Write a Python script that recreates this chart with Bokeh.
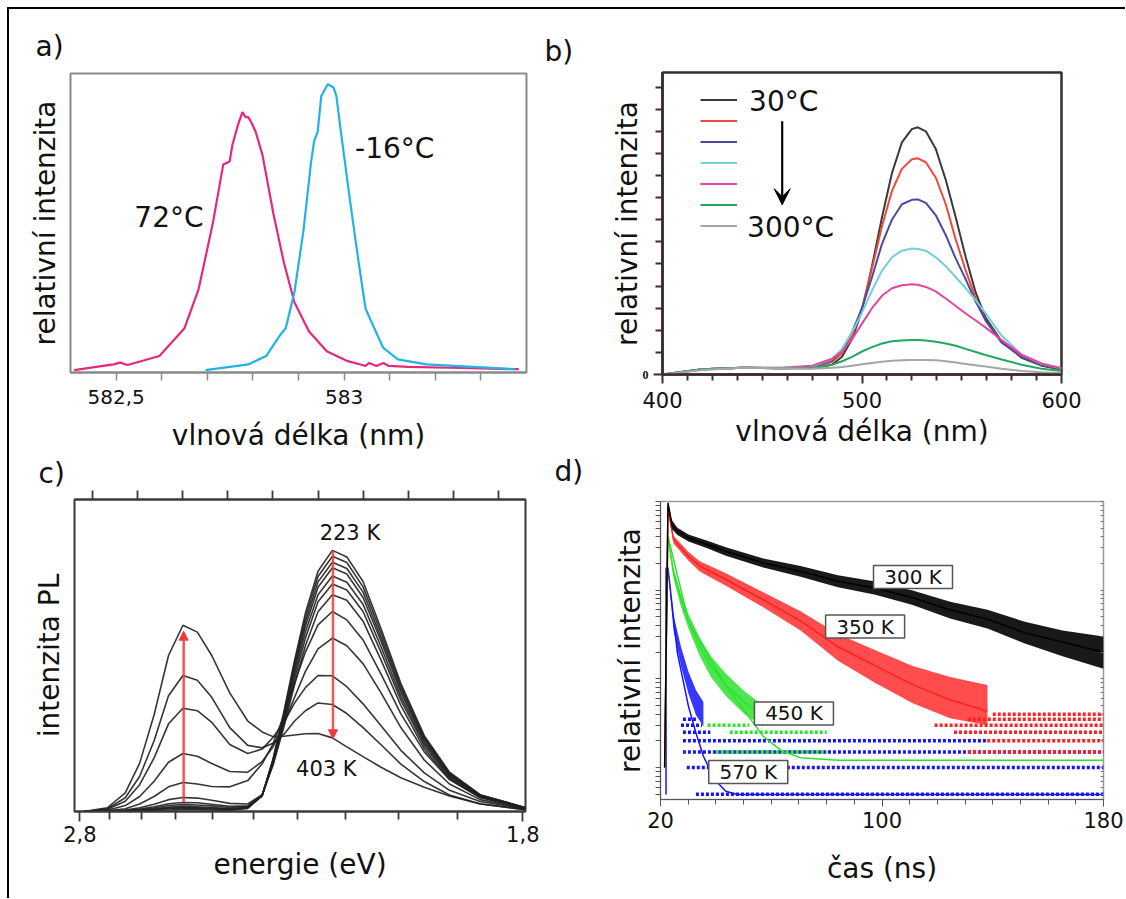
from bokeh.plotting import figure
from bokeh.layouts import column, row
from bokeh.models import (Range1d, FixedTicker, LinearAxis, LogAxis, Label, Legend, Title,
                          LegendItem, Arrow, VeeHead, NormalHead)
from bokeh.embed import file_html
from bokeh.resources import INLINE

FONT = "DejaVu Sans"
TXT = "#111111"

# ---------------- panel a data ----------------
a_72C_nm = [582.408, 582.494, 582.509, 582.525, 582.595, 582.650, 582.681, 582.712, 582.735,
            582.749, 582.755, 582.767, 582.777, 582.784, 582.790, 582.798, 582.806, 582.821,
            582.845, 582.868, 582.891, 582.923, 582.962, 583.008, 583.040, 583.047, 583.055,
            583.071, 583.086, 583.098, 583.141, 583.258, 583.383]
a_72C_val = [0.008, 0.027, 0.033, 0.025, 0.055, 0.148, 0.279, 0.498, 0.696,
             0.706, 0.761, 0.827, 0.871, 0.854, 0.854, 0.832, 0.805, 0.728,
             0.531, 0.367, 0.235, 0.137, 0.071, 0.038, 0.025, 0.022, 0.032,
             0.022, 0.032, 0.022, 0.019, 0.015, 0.011]
a_m16C_nm = [582.696, 582.790, 582.829, 582.860, 582.872, 582.891, 582.911, 582.927, 582.934,
             582.942, 582.950, 582.964, 582.977, 582.983, 582.993, 583.012, 583.032, 583.047,
             583.063, 583.086, 583.118, 583.180, 583.375]
a_m16C_val = [0.008, 0.027, 0.055, 0.126, 0.148, 0.268, 0.476, 0.696, 0.772,
              0.805, 0.925, 0.964, 0.953, 0.925, 0.805, 0.586, 0.367, 0.214,
              0.159, 0.082, 0.044, 0.027, 0.011]
a_tick_major = [582.5, 583.0]
a_tick_minor = [582.6, 582.7, 582.8, 582.9, 583.1, 583.2, 583.3]
a_tick_labels = ["582,5", "583"]

# ---------------- panel b data ----------------
b_nm = [400, 420, 440, 460, 475, 485, 490, 495, 500, 505, 510, 515, 520, 525, 528, 532,
        537, 542, 547, 552, 557, 562, 570, 580, 590, 600]
b_30C = [0.00, 0.12, 0.15, 0.14, 0.14, 0.22, 0.40, 0.80, 1.45, 2.45, 3.55, 4.55, 5.25, 5.55, 5.59, 5.50,
         5.10, 4.40, 3.55, 2.65, 1.85, 1.28, 0.75, 0.38, 0.20, 0.11]
b_red = [0.00, 0.12, 0.15, 0.14, 0.15, 0.28, 0.48, 0.88, 1.50, 2.40, 3.35, 4.15, 4.65, 4.87, 4.89, 4.80,
         4.45, 3.85, 3.05, 2.35, 1.72, 1.22, 0.75, 0.40, 0.22, 0.13]
b_blue = [0.00, 0.12, 0.15, 0.14, 0.16, 0.32, 0.55, 0.95, 1.50, 2.20, 2.95, 3.50, 3.85, 3.95, 3.96, 3.88,
          3.60, 3.15, 2.62, 2.15, 1.65, 1.22, 0.72, 0.40, 0.22, 0.13]
b_cyan = [0.00, 0.12, 0.15, 0.15, 0.18, 0.35, 0.58, 0.95, 1.40, 1.90, 2.35, 2.65, 2.80, 2.85, 2.84, 2.80,
          2.65, 2.45, 2.20, 1.95, 1.68, 1.38, 0.88, 0.45, 0.24, 0.14]
b_magenta = [0.00, 0.12, 0.15, 0.15, 0.20, 0.36, 0.52, 0.80, 1.15, 1.50, 1.78, 1.95, 2.02, 2.04, 2.03, 1.98,
             1.88, 1.72, 1.55, 1.38, 1.22, 1.06, 0.78, 0.45, 0.25, 0.14]
b_green = [0.00, 0.12, 0.15, 0.14, 0.15, 0.22, 0.30, 0.40, 0.52, 0.62, 0.70, 0.75, 0.77, 0.78, 0.78, 0.77,
           0.74, 0.70, 0.65, 0.58, 0.51, 0.44, 0.34, 0.22, 0.13, 0.08]
b_300C = [0.00, 0.10, 0.15, 0.14, 0.13, 0.15, 0.17, 0.20, 0.23, 0.26, 0.29, 0.31, 0.32, 0.33, 0.33, 0.33,
          0.32, 0.30, 0.27, 0.24, 0.21, 0.18, 0.13, 0.08, 0.05, 0.03]
b_colors = ["#3a3a3a", "#f0483a", "#4a4aa6", "#74cfdc", "#e8449e", "#22a862", "#a6a6a6"]
b_legend_first = "30°C"
b_legend_last = "300°C"
b_xtick_major = [400, 500, 600]
b_xtick_minor = [412.5, 425, 437.5, 450, 462.5, 475, 487.5, 512.5, 525, 537.5, 550, 562.5, 575, 587.5]
b_ytick_major = [0]
b_ytick_minor = [0.5, 1, 1.5, 2, 2.5, 3, 3.5, 4, 4.5, 5, 5.5, 6, 6.5]

# ---------------- panel c data (x stored as wavelength, axis labelled in eV) ----------------
HC = 1239.84
c_nm = [445, 458, 468, 476, 484, 492, 500, 508, 516, 526, 536, 544, 550, 556, 562, 568,
        575, 583, 591, 600, 610, 621, 634, 648, 665, 690]
c_223K = [0, 0, 0.001, 0.002, 0.003, 0.005, 0.006, 0.006, 0.005, 0.003, 0.010, 0.050, 0.167, 0.318, 0.485, 0.636,
          0.770, 0.837, 0.816, 0.737, 0.586, 0.410, 0.243, 0.126, 0.054, 0.013]
c_02 = [0, 0, 0.001, 0.003, 0.005, 0.009, 0.010, 0.010, 0.008, 0.006, 0.012, 0.052, 0.166, 0.312, 0.475, 0.623,
        0.753, 0.818, 0.798, 0.720, 0.573, 0.401, 0.237, 0.123, 0.053, 0.012]
c_03 = [0, 0, 0.001, 0.003, 0.007, 0.011, 0.013, 0.012, 0.010, 0.007, 0.013, 0.052, 0.163, 0.306, 0.465, 0.608,
        0.736, 0.799, 0.779, 0.703, 0.559, 0.392, 0.232, 0.120, 0.052, 0.012]
c_04 = [0, 0, 0.002, 0.004, 0.008, 0.014, 0.016, 0.015, 0.013, 0.009, 0.014, 0.051, 0.159, 0.298, 0.454, 0.594,
        0.719, 0.781, 0.761, 0.686, 0.546, 0.382, 0.226, 0.117, 0.051, 0.012]
c_05 = [0, 0, 0.002, 0.006, 0.011, 0.019, 0.022, 0.021, 0.018, 0.013, 0.016, 0.051, 0.155, 0.290, 0.439, 0.575,
        0.695, 0.755, 0.735, 0.664, 0.528, 0.369, 0.219, 0.113, 0.049, 0.011]
c_06 = [0, 0.001, 0.003, 0.008, 0.015, 0.025, 0.029, 0.028, 0.023, 0.017, 0.018, 0.052, 0.152, 0.281, 0.425, 0.555,
        0.672, 0.729, 0.710, 0.641, 0.510, 0.357, 0.211, 0.109, 0.047, 0.011]
c_07 = [0, 0.001, 0.005, 0.012, 0.023, 0.038, 0.045, 0.043, 0.036, 0.026, 0.024, 0.054, 0.148, 0.270, 0.407, 0.531,
        0.640, 0.695, 0.677, 0.610, 0.485, 0.340, 0.201, 0.104, 0.045, 0.010]
c_08 = [0, 0.002, 0.009, 0.024, 0.048, 0.079, 0.093, 0.088, 0.080, 0.079, 0.099, 0.153, 0.217, 0.307, 0.412, 0.511,
        0.598, 0.641, 0.614, 0.550, 0.440, 0.313, 0.191, 0.102, 0.045, 0.011]
c_09 = [0, 0.004, 0.019, 0.048, 0.097, 0.158, 0.186, 0.177, 0.154, 0.128, 0.126, 0.160, 0.207, 0.281, 0.366, 0.449,
        0.521, 0.556, 0.531, 0.474, 0.380, 0.269, 0.165, 0.088, 0.038, 0.009]
c_10 = [0, 0.007, 0.033, 0.086, 0.172, 0.281, 0.331, 0.323, 0.286, 0.215, 0.186, 0.200, 0.237, 0.285, 0.348, 0.397,
        0.436, 0.435, 0.400, 0.345, 0.275, 0.196, 0.124, 0.068, 0.032, 0.008]
c_11 = [0, 0.009, 0.044, 0.113, 0.227, 0.371, 0.436, 0.421, 0.366, 0.269, 0.212, 0.204, 0.219, 0.247, 0.290, 0.323,
        0.348, 0.343, 0.314, 0.269, 0.214, 0.152, 0.096, 0.053, 0.025, 0.006]
c_403K = [0, 0.012, 0.060, 0.155, 0.310, 0.500, 0.597, 0.575, 0.500, 0.380, 0.290, 0.255, 0.240, 0.241, 0.245, 0.249,
          0.250, 0.236, 0.207, 0.176, 0.142, 0.108, 0.078, 0.050, 0.024, 0.006]
c_curves = [c_223K, c_02, c_03, c_04, c_05, c_06, c_07, c_08, c_09, c_10, c_11, c_403K]
c_energy_major = [2.8, 1.8]
c_energy_minor = [2.7, 2.6, 2.5, 2.4, 2.3, 2.2, 2.1, 2.0, 1.9]
c_energy_labels = ["2,8", "1,8"]
c_top_ticks = [450, 475, 500, 525, 550, 575, 600, 625, 650, 675]

# ---------------- panel d data ----------------
d_300K_t = [21.5, 22.7, 24.1, 26.1, 30.1, 36.9, 43.6, 57.1, 70.6, 84.1, 97.6, 111.1, 124.6, 138.1, 151.6, 165.2, 180.0]
d_300K = [1.0, 964, 550, 461, 388, 327, 275, 203, 163, 126, 106, 82, 60, 47, 33, 26, 20]
d_300K_hi = [1010, 620, 505, 425, 360, 305, 228, 187, 147, 125, 99, 74, 60, 44, 35, 30]
d_300K_lo = [920, 490, 420, 353, 297, 245, 180, 142, 108, 89, 68, 48, 37, 25, 18, 13]

d_350K_t = [21.5, 22.7, 24.7, 30.1, 34.2, 43.6, 57.1, 70.6, 84.1, 97.6, 111.1, 124.6, 138.1]
d_350K = [1.0, 847, 372, 241, 186, 132, 78, 45, 23, 14, 8.6, 5.8, 4.3]
d_350K_hi = [900, 410, 270, 212, 155, 95, 58, 32, 21, 14, 10.5, 8.5, 7.0]
d_350K_lo = [790, 335, 215, 162, 112, 64, 35, 16, 9, 5.3, 3.6, 3.0, 2.8]

d_450K_t = [21.5, 22.7, 24.7, 27.4, 30.1, 34.2, 38.2, 43.6, 50.4, 57.1]
d_450K = [1.0, 405, 157, 78, 45, 23, 14, 8.6, 5.4, 3.8]
d_450K_hi = [430, 180, 92, 54, 29, 18, 11.5, 7.2, 5.0]
d_450K_lo = [380, 135, 65, 37, 18, 10.5, 6.4, 4.0, 2.9]
d_450K_fit_t = [22.7, 30.1, 43.6, 51.7, 57.1, 63.9, 70.6, 84.1, 180]
d_450K_fit = [405, 45, 8.3, 3.8, 2.25, 1.53, 1.29, 1.21, 1.21]

d_570K_t = [22.7, 24.7, 27.4, 30.1, 32.8, 35.5]
d_570K_hi = [190, 52, 23, 12, 7.5, 5.5]
d_570K_lo = [165, 35, 14, 6.8, 3.9, 2.9]
d_570K_fit_t = [22.0, 22.0, 22.7, 26.1, 30.1, 32.8, 35.5, 39.6, 43.6, 47.7, 180]
d_570K_fit = [0.496, 178, 178, 19.6, 4.9, 2.46, 1.34, 0.73, 0.54, 0.496, 0.496]

# quantised photon-count floor rows: level, start, end, series
row_level = [0.5, 1.0, 1.5, 1.5, 1.5, 2.0, 2.0, 2.5, 2.5, 2.5, 3.0, 3.0, 3.0, 3.5, 3.5, 4.0]
row_t0 = [32.8, 29.5, 28.1, 40.0, 131.0, 28.1, 138.0, 28.1, 45.0, 126.0, 27.4, 37.0, 119.0, 28.1, 131.0, 140.0]
row_t1 = [180, 180, 180, 80.0, 180, 138.0, 180, 38.0, 80.0, 180, 35.0, 52.0, 180, 33.0, 180, 180]
row_series = ["570", "570", "570", "450", "350", "570", "350", "570", "450", "350", "570", "450", "350", "570", "350", "350"]

d_label_text = ["300 K", "350 K", "450 K", "570 K"]
d_label_t = [111.2, 93.9, 68.2, 51.7]
d_label_y = [141, 38.9, 4.08, 0.89]
d_xtick_major = [20, 100, 180]
d_xtick_minor = [30, 40, 50, 60, 70, 80, 90, 110, 120, 130, 140, 150, 160, 170]
d_ytick = [0.5, 0.6, 0.7, 0.8, 0.9, 1, 2, 3, 4, 5, 6, 7, 8, 9, 10, 20, 30, 40, 50, 60, 70, 80, 90,
           100, 200, 300, 400, 500, 600, 700, 800, 900, 1000]

D_COL = {"300": "#000000", "350": "#ff2020", "450": "#2fe22f", "570": "#1414ff"}


def base(w, h, left, right, top, bottom, **kw):
    p = figure(width=w, height=h, output_backend="svg", toolbar_location=None,
               min_border_left=left, min_border_right=right,
               min_border_top=top, min_border_bottom=bottom, **kw)
    p.xgrid.visible = False
    p.ygrid.visible = False
    p.background_fill_color = "white"
    p.border_fill_color = "white"
    return p


def style_axis(ax, color, label, tick_size="21px", label_size="28px"):
    ax.axis_label = label
    ax.axis_label_text_font = FONT
    ax.axis_label_text_font_size = label_size
    ax.axis_label_text_font_style = "normal"
    ax.axis_label_text_color = TXT
    ax.major_label_text_font = FONT
    ax.major_label_text_font_size = tick_size
    ax.major_label_text_color = TXT
    ax.axis_line_color = color
    ax.major_tick_line_color = color
    ax.minor_tick_line_color = color
    ax.major_tick_in = 0
    ax.minor_tick_in = 0


def style_title(t, text, offset, standoff):
    t.text = text
    t.align = "left"
    t.offset = offset
    t.standoff = standoff
    t.text_font = FONT
    t.text_font_size = "28px"
    t.text_font_style = "normal"
    t.text_color = TXT


# ================= panel a (also carries the "c)" tag below it) =================
pa = base(530, 480, 61, 13, 64, 112, x_range=Range1d(582.40, 583.40), y_range=Range1d(0, 1))
pa.outline_line_color = "#8a8a8a"
pa.outline_line_width = 2
pa.line(a_72C_nm, a_72C_val, line_color="#e5287e", line_width=2.2)
pa.line(a_m16C_nm, a_m16C_val, line_color="#22b2e6", line_width=2.2)
xa = pa.xaxis[0]
style_axis(xa, "#8a8a8a", "vlnová délka (nm)", tick_size="20px")
xa.ticker = FixedTicker(ticks=a_tick_major, minor_ticks=a_tick_minor)
xa.major_label_overrides = dict(zip(a_tick_major, a_tick_labels))
xa.major_tick_out = 8
xa.minor_tick_out = 8
xa.major_tick_line_width = 1.5
xa.minor_tick_line_width = 1.5
xa.axis_line_width = 2
xa.major_label_standoff = 9
xa.axis_label_standoff = 12
ya = pa.yaxis[0]
style_axis(ya, None, "relativní intenzita")
ya.ticker = FixedTicker(ticks=[])
ya.major_tick_out = 0
ya.minor_tick_out = 0
ya.major_label_standoff = 0
ya.axis_label_standoff = 9
pa.add_layout(Label(x=582.540, y=0.52, text="72°C", text_font=FONT, text_font_size="28px",
                    text_baseline="middle", text_color=TXT))
pa.add_layout(Label(x=583.024, y=0.75, text="-16°C", text_font=FONT, text_font_size="28px",
                    text_baseline="middle", text_color=TXT))
style_title(pa.title, "a)", -35, 22)
tc = Title()
style_title(tc, "c)", -32, 0)
pa.add_layout(tc, "below")

# ================= panel b (also carries the "d)" tag below it) =================
pb = base(586, 480, 123, 64, 63, 110, x_range=Range1d(400, 600), y_range=Range1d(0, 6.83))
pb.outline_line_color = "#3d2b2b"
pb.outline_line_width = 2.5
b_series = [b_30C, b_red, b_blue, b_cyan, b_magenta, b_green, b_300C]
items = []
for ys, col in zip(b_series, b_colors):
    r = pb.line(b_nm, ys, line_color=col, line_width=2)
    items.append(LegendItem(label="\u00a0", renderers=[r]))
legend = Legend(items=items, location=(38, 138), spacing=0, padding=0, margin=0,
                border_line_color=None, background_fill_alpha=0,
                label_text_font=FONT, label_text_font_size="10px", label_text_color=TXT,
                glyph_width=37, glyph_height=21, label_height=21, label_width=5, label_standoff=2)
pb.add_layout(legend)
pb.add_layout(Label(x=443.4, y=6.18, text=b_legend_first, text_font=FONT, text_font_size="28px",
                    text_baseline="middle", text_color=TXT))
pb.add_layout(Label(x=442.4, y=3.33, text=b_legend_last, text_font=FONT, text_font_size="28px",
                    text_baseline="middle", text_color=TXT))
pb.add_layout(Arrow(end=VeeHead(size=16, fill_color="black", line_color="black"),
                    x_start=460, y_start=5.73, x_end=460, y_end=3.84,
                    line_color="black", line_width=2.2))
xb = pb.xaxis[0]
style_axis(xb, "#3d2b2b", "vlnová délka (nm)")
xb.ticker = FixedTicker(ticks=b_xtick_major, minor_ticks=b_xtick_minor)
xb.major_tick_out = 9
xb.minor_tick_out = 6
xb.axis_line_width = 2.5
xb.major_tick_line_width = 2
xb.minor_tick_line_width = 2
xb.major_label_standoff = 8
xb.axis_label_standoff = 4
yb = pb.yaxis[0]
style_axis(yb, "#3d2b2b", "relativní intenzita")
yb.ticker = FixedTicker(ticks=b_ytick_major, minor_ticks=b_ytick_minor)
yb.major_label_text_font = "Liberation Serif"
yb.major_label_text_font_style = "bold"
yb.major_label_text_font_size = "12px"
yb.major_tick_out = 9
yb.minor_tick_out = 7
yb.axis_line_width = 2.5
yb.major_tick_line_width = 2
yb.minor_tick_line_width = 2
yb.major_label_standoff = 5
yb.axis_label_standoff = -4
style_title(pb.title, "b)", -118, 9)
td = Title()
style_title(td, "d)", -108, 4)
pb.add_layout(td, "below")

# ================= panel c =================
pc = base(530, 409, 65, 14, 10, 87, x_range=Range1d(439.8, 690.2), y_range=Range1d(0, 1),
          title_location=None)
pc.outline_line_color = "#3a3a3a"
pc.outline_line_width = 2
for ys in c_curves:
    pc.line(c_nm, ys, line_color="#202020", line_width=1.6, line_alpha=0.9)
RED = "#f03838"
pc.add_layout(Arrow(end=NormalHead(size=9, fill_color=RED, line_color=RED),
                    x_start=500.4, y_start=0.03, x_end=500.4, y_end=0.578,
                    line_color=RED, line_width=2.5, line_alpha=0.85))
pc.add_layout(Arrow(end=NormalHead(size=9, fill_color=RED, line_color=RED),
                    x_start=583.3, y_start=0.832, x_end=583.3, y_end=0.233,
                    line_color=RED, line_width=2.5, line_alpha=0.85))
pc.add_layout(Label(x=592.7, y=0.893, text="223 K", text_font=FONT, text_font_size="21px",
                    text_align="center", text_baseline="middle", text_color=TXT))
pc.add_layout(Label(x=579.6, y=0.137, text="403 K", text_font=FONT, text_font_size="21px",
                    text_align="center", text_baseline="middle", text_color=TXT))
wl_major = [HC / e for e in c_energy_major]
wl_minor = [HC / e for e in c_energy_minor]
xc = pc.xaxis[0]
style_axis(xc, "#3a3a3a", "energie (eV)")
xc.ticker = FixedTicker(ticks=wl_major, minor_ticks=wl_minor)
xc.major_label_overrides = dict(zip(wl_major, c_energy_labels))
xc.major_tick_out = 10
xc.minor_tick_out = 8
xc.axis_line_width = 2
xc.major_tick_line_width = 1.8
xc.minor_tick_line_width = 1.8
xc.major_label_standoff = 4
xc.axis_label_standoff = 3
topc = LinearAxis(ticker=FixedTicker(ticks=[], minor_ticks=c_top_ticks))
style_axis(topc, "#3a3a3a", "")
topc.axis_label = None
topc.major_label_standoff = 0
topc.major_tick_out = 0
topc.minor_tick_out = 9
topc.axis_line_width = 2
topc.minor_tick_line_width = 1.8
pc.add_layout(topc, "above")
yc = pc.yaxis[0]
style_axis(yc, None, "intenzita PL")
yc.ticker = FixedTicker(ticks=[])
yc.major_tick_out = 0
yc.minor_tick_out = 0
yc.major_label_standoff = 0
yc.axis_label_standoff = 9

# ================= panel d =================
pd = base(586, 409, 121, 22, 12, 99, x_range=Range1d(20, 180), y_range=Range1d(0.436, 1000),
          y_axis_type="log", title_location=None)
pd.outline_line_color = "#9a9a9a"
pd.outline_line_width = 1.5
pd.segment(x0=row_t0, y0=row_level, x1=row_t1, y1=row_level,
           line_color=[D_COL[s] for s in row_series], line_width=3.5, line_dash="3 2")
pd.varea(x=d_570K_t, y1=d_570K_lo, y2=d_570K_hi, fill_color=D_COL["570"], fill_alpha=0.85)
pd.line(d_570K_fit_t, d_570K_fit, line_color=D_COL["570"], line_width=1.5)
pd.varea(x=d_450K_t[1:], y1=d_450K_lo, y2=d_450K_hi, fill_color=D_COL["450"], fill_alpha=0.85)
pd.line(d_450K_t, d_450K, line_color=D_COL["450"], line_width=1.5)
pd.line(d_450K_fit_t, d_450K_fit, line_color=D_COL["450"], line_width=1.5)
pd.varea(x=d_350K_t[1:], y1=d_350K_lo, y2=d_350K_hi, fill_color=D_COL["350"], fill_alpha=0.8)
pd.line(d_350K_t, d_350K, line_color=D_COL["350"], line_width=1.5)
pd.varea(x=d_300K_t[1:], y1=d_300K_lo, y2=d_300K_hi, fill_color=D_COL["300"], fill_alpha=0.9)
pd.line(d_300K_t, d_300K, line_color=D_COL["300"], line_width=1.5)
pd.rect(x=d_label_t, y=d_label_y, width=79, height=23, width_units="screen", height_units="screen",
        fill_color="white", line_color="#555555", line_width=1.5)
for txt, tx, ty in zip(d_label_text, d_label_t, d_label_y):
    pd.add_layout(Label(x=tx, y=ty, text=txt, text_font=FONT, text_font_size="20px",
                        text_align="center", text_baseline="middle", text_color=TXT))
xd = pd.xaxis[0]
style_axis(xd, "#555555", "čas (ns)")
xd.ticker = FixedTicker(ticks=d_xtick_major, minor_ticks=d_xtick_minor)
xd.major_tick_out = 7
xd.minor_tick_out = 5
xd.major_label_standoff = 5
xd.axis_label_standoff = 21
yd = pd.yaxis[0]
style_axis(yd, "#555555", "relativní intenzita")
yd.ticker = FixedTicker(ticks=[], minor_ticks=d_ytick)
yd.major_label_standoff = 0
yd.major_tick_out = 0
yd.minor_tick_out = 5
yd.axis_label_standoff = 9
rd = LogAxis(ticker=FixedTicker(ticks=[], minor_ticks=d_ytick))
style_axis(rd, "#777777", "")
rd.axis_label = None
rd.axis_line_color = None
rd.major_label_standoff = 0
rd.major_tick_out = 0
rd.minor_tick_out = 0
rd.minor_tick_in = 3
pd.add_layout(rd, "right")

layout = column(row(column(pa), column(pb)), row(column(pc), column(pd)),
                styles={"margin-top": "7px", "margin-left": "7px",
                        "border-top": "2.5px solid black", "border-left": "2.5px solid black"})

with open("out.html", "w") as f:
    f.write(file_html(layout, INLINE))
